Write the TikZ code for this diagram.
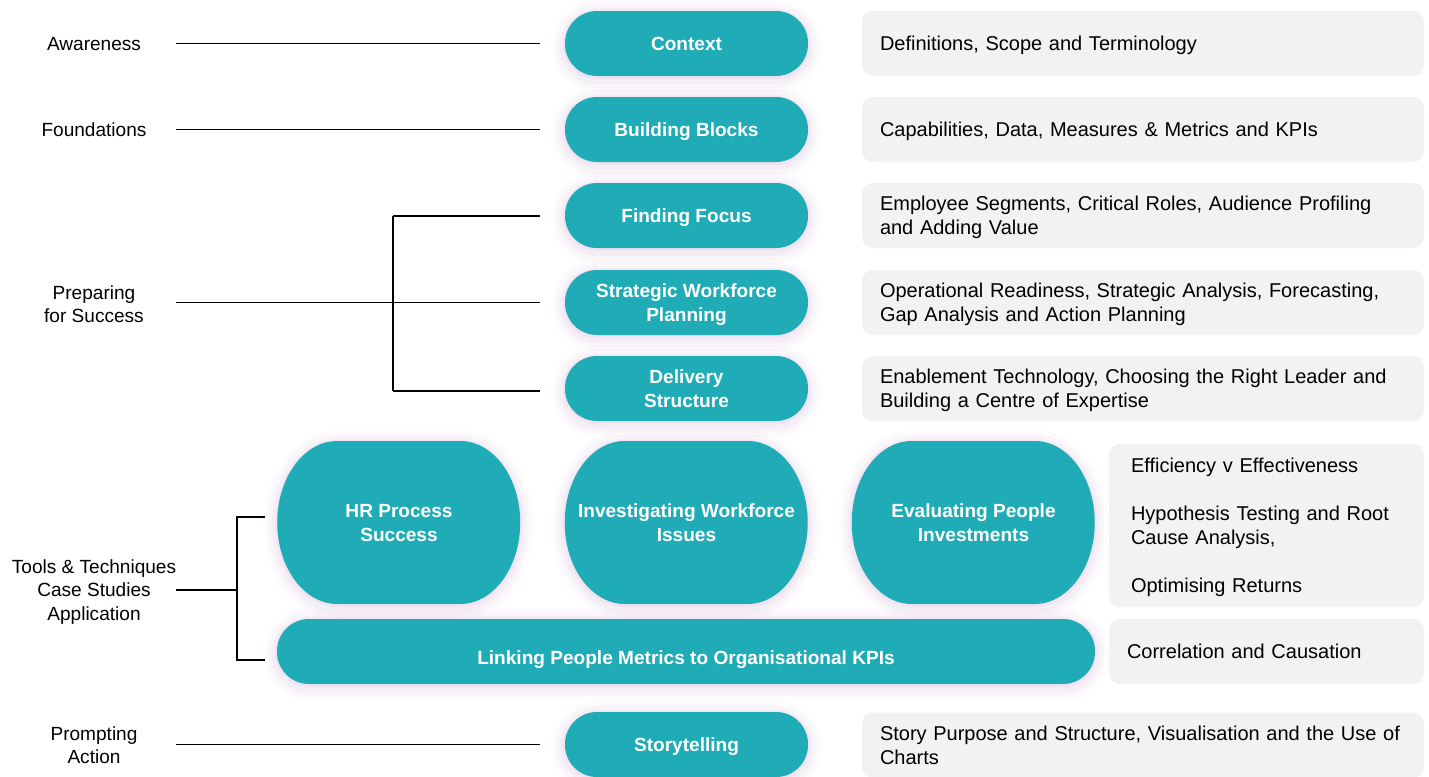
\documentclass[tikz,border=0pt]{standalone}
\usepackage{fontspec}
\setmainfont{Liberation Sans}
\usetikzlibrary{backgrounds}
\definecolor{tealc}{HTML}{20ACB6}
\definecolor{grayc}{HTML}{F2F2F2}
\definecolor{glowc}{HTML}{A060A8}
\begin{document}
\begin{tikzpicture}[x=0.75pt,y=-0.75pt,
  glow/.style={
    preaction={draw=glowc, line width=20pt, opacity=0.025, transform canvas={yshift=-2pt}},
    preaction={draw=glowc, line width=14pt, opacity=0.035, transform canvas={yshift=-2pt}},
    preaction={draw=glowc, line width=8pt, opacity=0.05, transform canvas={yshift=-2pt}},
    preaction={draw=glowc, line width=3pt, opacity=0.07, transform canvas={yshift=-1pt}}},
  pill/.style={glow, fill=tealc, text=white, font=\bfseries\fontsize{14.3}{18}\selectfont,
    align=center, rounded corners=24pt, minimum width=182.25pt, minimum height=48.75pt,
    inner sep=0pt, text height=10.25pt, text depth=0pt},
  twoline/.style={text height=28.25pt, text depth=0pt},
  bigtext/.style={text=white, font=\bfseries\fontsize{14.3}{18}\selectfont, align=center,
    inner sep=0pt, twoline, minimum width=182.25pt, minimum height=122.25pt},
  box/.style={fill=grayc, rounded corners=8pt, minimum height=48.75pt, inner xsep=13.5pt,
    inner ysep=0pt, align=left, font=\fontsize{15}{18}\selectfont, text height=10.75pt, text depth=0pt},
  lab/.style={align=center, font=\fontsize{14.3}{17.5}\selectfont, inner sep=0pt},
  conn/.style={draw=black, line width=1pt}]
\useasboundingbox (0,0) rectangle (1429,776);

% pills
\node[pill] (ctx) at (686.5,43.5) {Context};
\node[pill] (bb) at (686.5,129.5) {Building Blocks};
\node[pill] (ff) at (686.5,215.5) {Finding Focus};
\node[pill, twoline] (swp) at (686.5,302.5) {Strategic Workforce\\Planning};
\node[pill, twoline] (ds) at (686.5,388.5) {Delivery\\Structure};
\node[bigtext] (hr) at (399,522.5) {HR Process\\Success};
\node[bigtext] (iwi) at (686.5,522.5) {Investigating Workforce\\Issues};
\node[bigtext] (epi) at (973.5,522.5) {Evaluating People\\Investments};
\begin{scope}[on background layer]
  \foreach \n in {hr,iwi,epi}{
    \fill[glow, tealc] (\n.west) arc[start angle=180, end angle=90, x radius=45pt, y radius=61.125pt]
      -- ++(92.25pt,0) arc[start angle=90, end angle=-90, x radius=45pt, y radius=61.125pt]
      -- ++(-92.25pt,0) arc[start angle=-90, end angle=-180, x radius=45pt, y radius=61.125pt] -- cycle;
  }
\end{scope}
\node[pill, minimum width=613.5pt, text height=20pt] (link) at (686,651.5) {Linking People Metrics to Organisational KPIs};
\node[pill] (st) at (686.5,744.5) {Storytelling};

% gray boxes
\node[box, text width=394.5pt] (b1) at (1143,43.5) {Definitions, Scope and Terminology};
\node[box, text width=394.5pt] (b2) at (1143,129.5) {Capabilities, Data, Measures \& Metrics and KPIs};
\node[box, text width=394.5pt, text depth=18pt] (b3) at (1143,215.5) {Employee Segments, Critical Roles, Audience Profiling\\and Adding Value};
\node[box, text width=394.5pt, text depth=18pt] (b4) at (1143,302.5) {Operational Readiness, Strategic Analysis, Forecasting,\\Gap Analysis and Action Planning};
\node[box, text width=394.5pt, text depth=18pt] (b5) at (1143,388.5) {Enablement Technology, Choosing the Right Leader and\\Building a Centre of Expertise};
\node[box, minimum height=122.25pt, inner xsep=16.5pt, text width=203.25pt, text depth=90pt] (b6) at (1266.5,525.5)
  {Efficiency v Effectiveness\\[18pt]Hypothesis Testing and Root\\Cause Analysis,\\[18pt]Optimising Returns};
\node[box, text width=209.25pt] (b7) at (1266.5,651.5) {Correlation and Causation};
\node[box, text width=394.5pt, text depth=18pt] (b8) at (1143,745) {Story Purpose and Structure, Visualisation and the Use of\\Charts};

% left labels
\node[lab] (aw) at (94,44) {Awareness};
\node[lab] (fo) at (94,130) {Foundations};
\node[lab] (pr) at (94,304.5) {Preparing\\for Success};
\node[lab] (tt) at (94,592) {Tools \& Techniques\\Case Studies\\Application};
\node[lab] (pa) at (94,745.5) {Prompting\\Action};

% connector anchors
\coordinate (lx) at (176,0);
\coordinate (rx) at (540,0);
\coordinate (p1) at (393,216);
\coordinate (p3) at (393,391);
\coordinate (tx) at (237,590);
\coordinate (t1) at (237,517);
\coordinate (t2) at (237,660);
\coordinate (t1r) at (265,517);
\coordinate (t2r) at (265,660);

\draw[conn] (lx |- ctx) -- (rx |- ctx);
\draw[conn] (lx |- bb) -- (rx |- bb);
\draw[conn] (lx |- swp) -- (rx |- swp);
\draw[conn] (p1) -- (p3);
\draw[conn] (p1) -- (rx |- p1);
\draw[conn] (p3) -- (rx |- p3);
\draw[conn] (lx |- tx) -- (tx);
\draw[conn] (t1r) -- (t1) -- (t2) -- (t2r);
\draw[conn] (lx |- st) -- (rx |- st);
\end{tikzpicture}
\end{document}
